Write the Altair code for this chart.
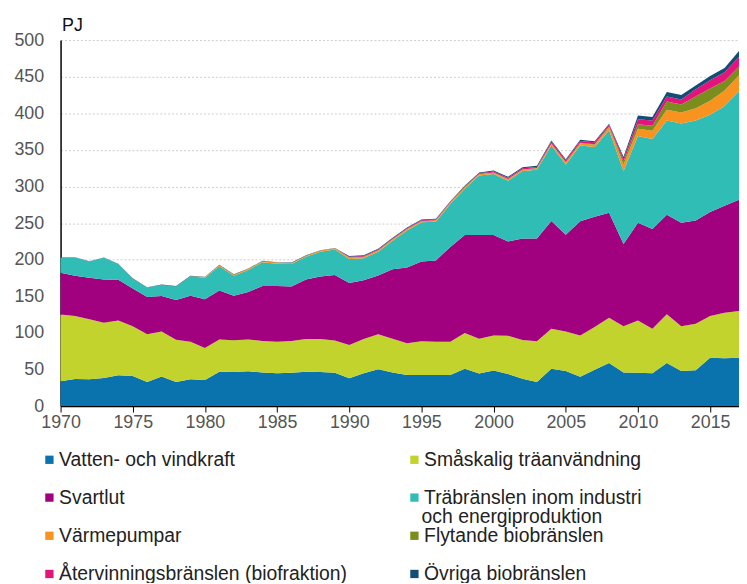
import altair as alt
import pandas as pd

years = list(range(1970, 2018))

series = [
    "Vatten- och vindkraft",
    "Småskalig träanvändning",
    "Svartlut",
    "Träbränslen inom industri och energiproduktion",
    "Värmepumpar",
    "Flytande biobränslen",
    "Återvinningsbränslen (biofraktion)",
    "Övriga biobränslen",
]
colors = ["#0a72ad", "#c2d32e", "#a1017f", "#30bdb6", "#f7931e", "#7a8d1d", "#e3157c", "#114d74"]

vatten = [34, 37, 36.5, 38.5, 42, 41, 33, 40.5, 33, 36.5, 35.5, 47, 46.5, 47.5, 46, 45,
          45.5, 47, 46.5, 45.5, 38, 45, 50.5, 46, 42.5, 42.5, 42.5, 42.5, 51, 44.5, 48.5, 44,
          37.5, 33, 51, 48, 40, 49.5, 59, 46, 45.5, 45, 59, 48, 49, 66, 65.5, 66]
smaskalig = [91, 86, 82, 75.5, 75, 68, 65, 61.5, 57.5, 51.5, 44, 44, 43.5, 43.5, 43, 43,
             43.5, 44.5, 45, 44, 45.5, 46.5, 47.5, 46, 43.5, 46, 45.5, 45.5, 49, 47.5, 48, 52,
             52.8, 55.5, 54.7, 54, 56.5, 58.5, 61.7, 63, 71.5, 60.5, 66.5, 61, 63.5, 57, 62, 64]
svartlut = [57, 55, 57, 59, 55.6, 51.5, 51, 48.3, 54.5, 62.7, 66.6, 67, 60.7, 65, 75, 76,
            74.5, 81.5, 85.5, 89.5, 84.5, 80.5, 80.5, 95, 103.5, 109, 111, 129.5, 133.7, 141.7, 137.2, 129,
            138.7, 140.5, 147.3, 132, 155.9, 150.6, 143.3, 112.5, 133.4, 136.5, 136, 141.4, 141, 142.2, 146.2, 152]
trabransle = [21, 25, 22, 29.5, 21.4, 13.5, 13, 15.2, 18.5, 26.8, 29.2, 33, 27.3, 30, 32.5, 30.5,
              30.5, 31, 34, 35, 33, 30, 32.5, 39, 50.5, 53.5, 53, 58.5, 63.3, 81.3, 83.3, 83,
              92, 94, 103, 96, 103.6, 95.4, 113, 99.5, 118.6, 123, 128.5, 135.6, 136.5, 132.8, 136.3, 148]
varmepumpar = [0, 0, 0, 0, 0, 0, 0, 0, 0, 0, 1, 1.5, 1.5, 1.5, 1.5, 1.5,
               1.5, 1.5, 1.5, 1.5, 2, 2, 2, 2, 2, 2, 2, 2, 2, 2, 2, 2,
               2, 2, 2.5, 3, 3, 3, 4, 9, 10, 11, 15, 15, 17, 19, 21, 22]
flytande = [0, 0, 0, 0, 0, 0, 0, 0, 0, 0, 0, 0, 0, 0, 0, 0,
            0, 0, 0, 0, 0, 0, 0, 0, 0, 0, 0, 0, 0, 0, 0, 0.3,
            0.3, 0.3, 0.3, 0.3, 0.8, 0.8, 0.8, 4, 6, 7, 11, 11, 16, 17, 13, 12]
atervinning = [0, 0, 0, 0, 0, 0, 0, 0, 0, 0, 0, 0, 0, 0, 0, 0,
               0, 0, 0, 0, 1, 1, 1, 1, 1, 1, 1, 1, 1, 1, 1.5, 1.5,
               1.5, 1.5, 2.5, 2.5, 2.5, 2.5, 2.5, 4, 7, 7, 7, 7, 10, 11, 12, 13]
ovriga = [0.5, 0.5, 0.5, 0.5, 0.5, 0.5, 0.5, 0.5, 0.5, 0.5, 0.5, 0.5, 0.5, 0.5, 0.5, 0.5,
          0.5, 0.5, 0.5, 0.5, 1, 1, 1, 1, 1, 1, 1, 1, 1, 1, 1.5, 1.5,
          1.5, 1.5, 1.5, 1.5, 1.5, 1.5, 1.5, 2.5, 5, 5, 6, 6, 5, 6, 6, 8]

x_ticks = [1970, 1975, 1980, 1985, 1990, 1995, 2000, 2005, 2010, 2015]
y_ticks = [0, 50, 100, 150, 200, 250, 300, 350, 400, 450, 500]
wrap_line = ["och energiproduktion"]

values = [vatten, smaskalig, svartlut, trabransle, varmepumpar, flytande, atervinning, ovriga]
rows = []
for i, (name, vals) in enumerate(zip(series, values)):
    for yr, v in zip(years, vals):
        rows.append({"Year": yr, "Series": name, "Value": v, "Idx": i})
df = pd.DataFrame(rows)

FONT = "Liberation Sans"

areas = alt.Chart(df).mark_area(interpolate="linear").encode(
    x=alt.X("Year:Q",
            scale=alt.Scale(domain=[1970, 2017], nice=False, zero=False),
            axis=alt.Axis(values=x_ticks, format="d", title=None, grid=False,
                          domainColor="#000000", domainWidth=1.5, tickColor="#000000",
                          tickSize=6, labelFontSize=18, labelColor="#555555",
                          labelFont=FONT, labelPadding=2, labelFlush=False)),
    y=alt.Y("Value:Q", stack="zero",
            scale=alt.Scale(domain=[0, 500], nice=False),
            axis=alt.Axis(values=y_ticks, title="PJ", titleAngle=0, titleAlign="left",
                          titleBaseline="alphabetic", titleX=1, titleY=-10,
                          titleFontSize=18, titleFontWeight="normal", titleColor="#111111",
                          titleFont=FONT, ticks=False, domainColor="#000000", domainWidth=1.5,
                          labelFontSize=18, labelColor="#555555", labelFont=FONT,
                          labelPadding=17, gridColor="#cccccc", gridDash=[2, 2], gridWidth=1)),
    color=alt.Color("Series:N",
                    scale=alt.Scale(domain=series, range=colors),
                    legend=alt.Legend(
                        title=None, orient="none", legendX=-21, legendY=413,
                        direction="horizontal",
                        columns=2, columnPadding=58, rowPadding=17.5, padding=0,
                        symbolType="square", symbolSize=70, symbolStrokeWidth=0,
                        labelFontSize=19.5, labelFont=FONT, labelColor="#222222",
                        labelOffset=0, labelLimit=400,
                        labelExpr="datum.label == 'Träbränslen inom industri och energiproduktion' ? 'Träbränslen inom industri' : datum.label")),
    order=alt.Order("Idx:Q", sort="ascending"),
)

wrap = alt.Chart(pd.DataFrame({"t": wrap_line})).mark_text(
    align="left", baseline="middle", fontSize=19.5, font=FONT, color="#222222"
).encode(x=alt.value(364), y=alt.value(481), text="t:N")

chart = alt.layer(areas, wrap).properties(
    width=684, height=369,
    autosize=alt.AutoSizeParams(type="none"),
    padding={"left": 53, "top": 30, "right": 0, "bottom": 176},
).configure_view(stroke=None)

chart.save("out.html", embed_options={"renderer": "svg", "actions": False})
